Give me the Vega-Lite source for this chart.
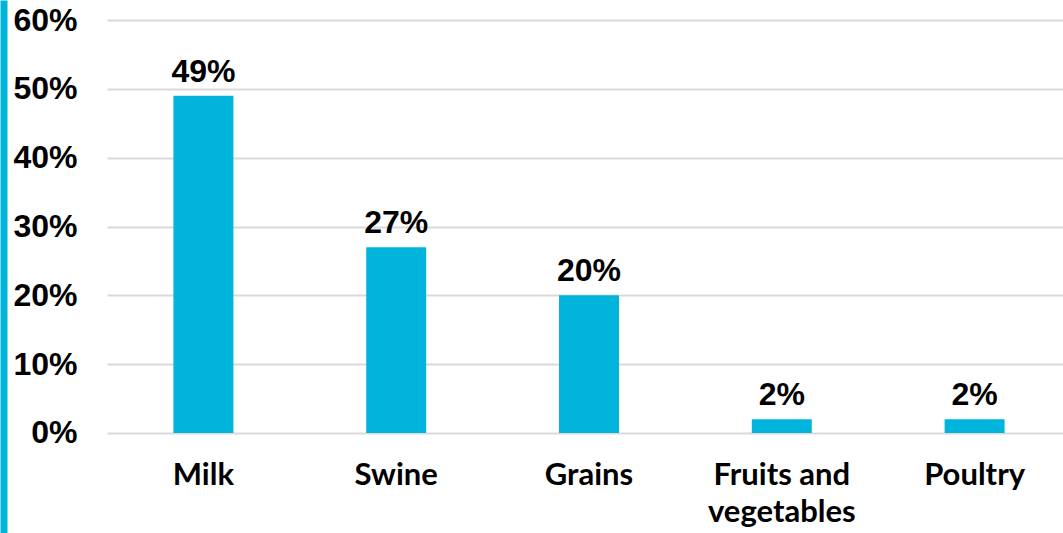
{
  "$schema": "https://vega.github.io/schema/vega-lite/v6.json",
  "width": 964,
  "height": 533,
  "autosize": {"type": "none"},
  "padding": {"left": 107, "top": 0, "right": 0, "bottom": 0},
  "background": "#ffffff",
  "config": {"view": {"stroke": null}},
  "data": {
    "values": [
      {"category": "Milk", "share": 0.49},
      {"category": "Swine", "share": 0.27},
      {"category": "Grains", "share": 0.20},
      {"category": "Fruits and vegetables", "share": 0.02},
      {"category": "Poultry", "share": 0.02}
    ]
  },
  "encoding": {
    "x": {
      "field": "category",
      "type": "nominal",
      "sort": null,
      "scale": {"paddingInner": 0.689, "paddingOuter": 0.3445},
      "axis": {
        "title": null,
        "orient": "bottom",
        "offset": -100,
        "domain": false,
        "ticks": false,
        "grid": false,
        "labelAngle": 0,
        "labelFont": "Lato",
        "labelFontWeight": "bold",
        "labelFontSize": 31,
        "labelColor": "#000000",
        "labelBaseline": "alphabetic",
        "labelPadding": 51,
        "labelLineHeight": 37,
        "labelLimit": 0,
        "labelExpr": "datum.value == 'Fruits and vegetables' ? ['Fruits and', 'vegetables'] : datum.label"
      }
    },
    "y": {
      "field": "share",
      "type": "quantitative",
      "scale": {"domain": [-0.1453, 0.6291], "nice": false, "zero": false},
      "axis": {
        "title": null,
        "values": [0, 0.1, 0.2, 0.3, 0.4, 0.5, 0.6],
        "format": ".0%",
        "grid": true,
        "gridColor": "#d9d9d9",
        "gridWidth": 2,
        "ticks": false,
        "domain": true,
        "domainColor": "#00b4dc",
        "domainWidth": 7,
        "offset": 103.5,
        "labelPadding": -73.5,
        "labelAlign": "right",
        "labelBaseline": "middle",
        "labelFont": "Liberation Sans",
        "labelFontWeight": "bold",
        "labelFontSize": 32,
        "labelColor": "#000000"
      }
    }
  },
  "layer": [
    {
      "mark": {"type": "bar", "color": "#00b4dc"},
      "encoding": {"y2": {"datum": 0}}
    },
    {
      "mark": {
        "type": "text",
        "font": "Liberation Sans",
        "fontWeight": "bold",
        "fontSize": 32,
        "color": "#000000",
        "baseline": "alphabetic",
        "dy": -14
      },
      "encoding": {"text": {"field": "share", "type": "quantitative", "format": ".0%"}}
    }
  ]
}
